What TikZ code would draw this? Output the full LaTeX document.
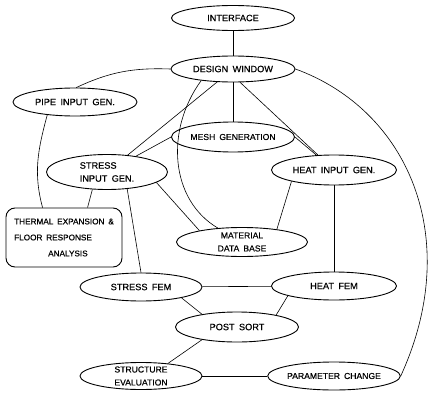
\documentclass[tikz,border=0pt]{standalone}
\usepackage{fontspec}
\setmainfont{Liberation Sans}
\newfontfamily\diagfont{Liberation Sans}[FakeBold=0.5, WordSpace=1.7]
\usetikzlibrary{shapes.geometric, positioning}

\begin{document}
\begin{tikzpicture}[
    x=1pt, y=1pt,
    every node/.style={font=\diagfont\fontsize{9.2}{13}\selectfont},
    % Process ellipses
    proc/.style={draw, ellipse, line width=0.9pt, inner sep=0pt,
                 minimum width=123pt, minimum height=28pt, align=center},
    % Plain connector
    link/.style={line width=0.6pt}
]
\useasboundingbox (0,0) rectangle (428,-396);

% === NODES ===

% Top
	\node [proc, minimum height=25pt] (iface) at (233,-18) {INTERFACE};
	\node [proc, minimum width=124pt, minimum height=26pt] (dwin) at (233,-69) {DESIGN WINDOW};

% Input generators
	\node [proc, minimum width=124pt] (pipe) at (75,-102) {PIPE INPUT GEN.};
	\node [proc, minimum height=30pt, font=\diagfont\fontsize{8.6}{13}\selectfont] (mesh) at (233,-137) {MESH GENERATION};
	\node [proc, minimum width=121pt, minimum height=35pt, align=left] (sinp) at (107,-172) {STRESS\\INPUT GEN.};
	\node [proc, minimum width=125pt, minimum height=30pt] (hinp) at (334,-170) {HEAT INPUT GEN.};

% Analysis box and data base
	\node [draw, rounded corners=9pt, line width=0.9pt, minimum width=116pt, minimum height=59pt,
	inner sep=0pt, align=left, font=\diagfont\fontsize{8.2}{16}\selectfont] (therm) at (64,-237.5)
	{THERMAL EXPANSION \&\\FLOOR RESPONSE\\\hspace*{34pt}ANALYSIS};
	\node [proc, minimum width=131pt, minimum height=29pt, font=\diagfont\fontsize{8.6}{13}\selectfont] (mat) at (242,-242) {MATERIAL\\DATA BASE};

% FEM row
	\node [proc, minimum width=122pt] (sfem) at (141,-287) {STRESS FEM};
	\node [proc, minimum width=125pt] (hfem) at (334,-286) {HEAT FEM};
	\node [proc, minimum height=30pt] (post) at (237,-327) {POST SORT};

% Bottom row
	\node [proc, minimum width=122pt, minimum height=27pt, font=\diagfont\fontsize{8.6}{13}\selectfont] (seval) at (141,-376) {STRUCTURE\\EVALUATION};
	\node [proc, minimum width=125pt, font=\diagfont\fontsize{8.6}{13}\selectfont] (pchg) at (334,-376) {PARAMETER CHANGE};

% === STRAIGHT LINKS ===
\draw[link] (iface) -- (dwin);
\draw[link] (dwin) -- (mesh);
\draw[link] (dwin) -- (sinp);
\draw[link] (dwin.-62) -- (hinp);
\draw[link] (mesh.west) -- (sinp);
\draw[link] (mesh.east) -- (hinp);
\draw[link] (sinp.-130) -- ([xshift=82pt]therm.north west);
\draw[link] (sinp.-40) -- (sfem.north);
\draw[link] (sinp.-12) -- (mat.165);
\draw[link] (hinp.-165) -- (mat.20);
\draw[link] (hinp) -- (hfem);
\draw[link] (sfem) -- (hfem);
\draw[link] (sfem.-15) -- (post.160);
\draw[link] (hfem.-168) -- (post.17);
\draw[link] (post.-160) -- (seval.25);
\draw[link] (seval) -- (pchg);

% === CURVED LINKS ===
\draw[link] (dwin.west) to[out=178, in=25] (pipe.85);
\draw[link] (pipe.-155) to[out=255, in=105] ([xshift=37pt]therm.north west);
\draw[link] (dwin.200) .. controls (165,-130) and (170,-200) .. (mat.150);
\draw[link] (dwin.east) .. controls (408,-110) and (464,-238) .. (pchg.east);

\end{tikzpicture}
\end{document}
